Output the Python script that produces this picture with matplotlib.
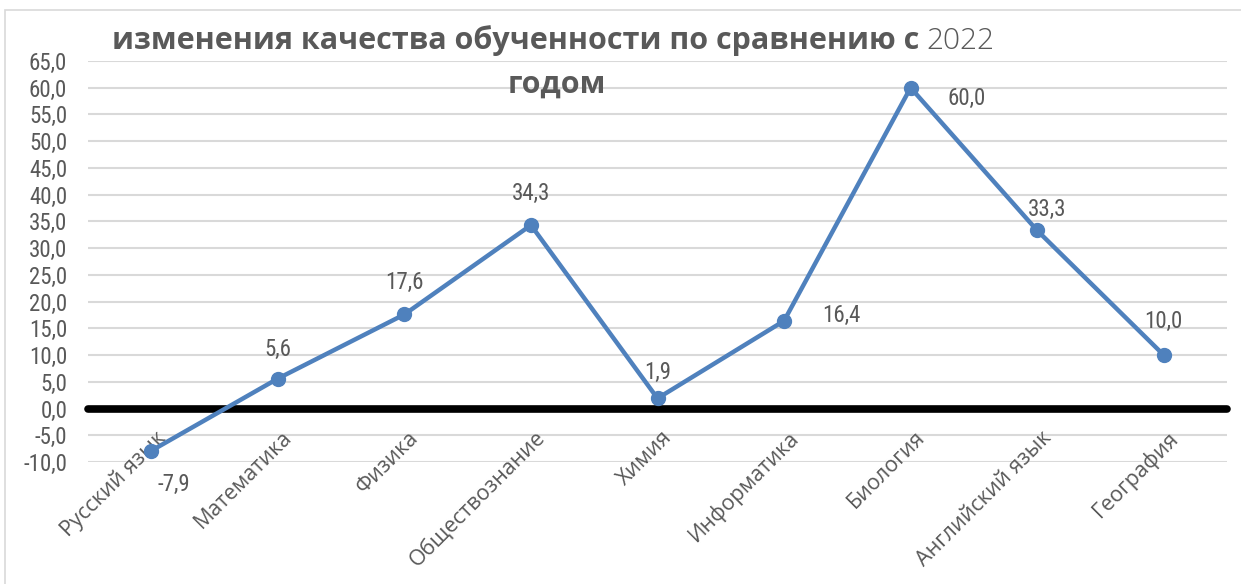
import matplotlib
matplotlib.use("Agg")
import matplotlib.pyplot as plt
from matplotlib.patches import Rectangle
from matplotlib import font_manager as fm
from matplotlib.transforms import offset_copy

categories = ["Русский язык", "Математика", "Физика", "Обществознание", "Химия",
              "Информатика", "Биология", "Английский язык", "География"]
values = [-7.9, 5.6, 17.6, 34.3, 1.9, 16.4, 60.0, 33.3, 10.0]
yticks = [-10, -5, 0, 5, 10, 15, 20, 25, 30, 35, 40, 45, 50, 55, 60, 65]

# label offsets in points (layout only)
label_offsets = [(16, -24), (0, 21), (0, 23), (0, 23), (0, 19), (41, 4), (40, -8), (7, 15), (0, 24)]

# choose a narrow font for numbers if one is installed
names = {f.name for f in fm.fontManager.ttflist}
narrow_fam = None
for cand in ["Liberation Sans Narrow", "DejaVu Sans Condensed", "Roboto Condensed",
             "Open Sans Condensed", "Roboto"]:
    if cand in names:
        narrow_fam = cand
        break
num_font = dict(family=[narrow_fam or "DejaVu Sans", "DejaVu Sans"])
if narrow_fam == "Roboto":
    num_font["fontweight"] = "light"

W, H = 1241, 584
fig = plt.figure(figsize=(W / 100, H / 100), dpi=100)
fig.patch.set_facecolor("white")

# outer chart border
fig.patches.append(Rectangle((5 / W, -0.05), 1.1, (H - 10) / H + 0.05, transform=fig.transFigure,
                             fill=False, edgecolor="#D9D9D9", linewidth=1.2))

left, right = 88 / W, 1227 / W
bottom, top = (H - 462) / H, (H - 61) / H
ax = fig.add_axes([left, bottom, right - left, top - bottom])

gray = "#595959"

x = list(range(len(categories)))
ax.set_xlim(-0.5, len(categories) - 0.5)
ax.set_ylim(-10, 65)
ax.set_yticks(yticks)
ax.set_yticklabels([f"{v:.1f}".replace(".", ",") for v in yticks], fontsize=16.5, color=gray, **num_font)
ax.yaxis.grid(True, color="#D9D9D9", linewidth=1.5)
ax.set_axisbelow(True)
ax.tick_params(axis="both", length=0)
ax.tick_params(axis="y", pad=15)
for s in ax.spines.values():
    s.set_visible(False)

ax.set_xticks(x)
ax.set_xticklabels([])
lab_tr = offset_copy(ax.get_xaxis_transform(), fig=fig, x=4, y=0, units="dots")
for xi, c in zip(x, categories):
    ax.text(xi, 35 / 401, c, transform=lab_tr, rotation=45, ha="right", va="top",
            rotation_mode="anchor", fontsize=15.5, color=gray,
            family=["Open Sans", "DejaVu Sans"], zorder=1)

ax.axhline(0, color="black", linewidth=5.5, solid_capstyle="round", clip_on=False, zorder=2)

ax.plot(x, values, color="#4F81BD", linewidth=3.2, marker="o", markersize=10, zorder=3,
        solid_capstyle="round")

for xi, v, off in zip(x, values, label_offsets):
    ax.annotate(f"{v:.1f}".replace(".", ","), (xi, v), xytext=off, textcoords="offset points",
                ha="center", va="center", fontsize=16.5, color=gray, **num_font)

# title: bold part + light "2022"
fig.canvas.draw()
r = fig.canvas.get_renderer()
t1 = fig.text(112 / W, 1 - 49 / H, "изменения качества обученности по сравнению с",
              ha="left", va="baseline", fontsize=22, fontweight="bold", color=gray,
              family=["Open Sans", "DejaVu Sans"])
bb = t1.get_window_extent(renderer=r)
fig.text((bb.x1 + 7) / W, 1 - 49 / H, "2022", ha="left", va="baseline", fontsize=21.5,
         fontweight="light", color=gray, family=["Open Sans", "DejaVu Sans"])
fig.text(557 / W, 1 - 93 / H, "годом", ha="center", va="baseline", fontsize=22,
         fontweight="bold", color=gray, family=["Open Sans", "DejaVu Sans"])

fig.savefig("out.png", dpi=100)
